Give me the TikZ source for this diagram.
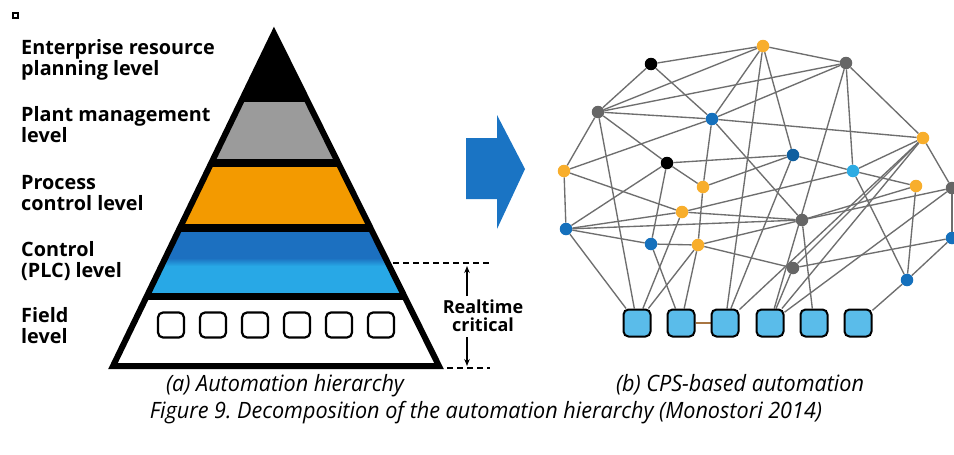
\documentclass[tikz,border=0pt]{standalone}
\usepackage{fontspec}
\setmainfont{Open Sans}
\newfontfamily\capfont{Open Sans}[FakeStretch=0.96]
\usetikzlibrary{arrows.meta}
\pgfdeclarelayer{links}
\pgfsetlayers{links,main}
\frenchspacing

\definecolor{pyrgray}{HTML}{9B9B9B}
\definecolor{pyrorange}{HTML}{F39A00}
\definecolor{pyrblueA}{HTML}{1C70C0}
\definecolor{pyrblueB}{HTML}{28A8E6}
\definecolor{bigarrow}{HTML}{1A74C4}
\definecolor{nOrange}{HTML}{F8AE2C}
\definecolor{nGray}{HTML}{666666}
\definecolor{nBlue}{HTML}{1570BC}
\definecolor{nLight}{HTML}{2CABE3}
\definecolor{nDark}{HTML}{0F5F9F}
\definecolor{devfill}{HTML}{5ABCEA}
\definecolor{linkgray}{HTML}{6E6E6E}

\begin{document}
\begin{tikzpicture}[x=1pt,y=-1pt,
  lab/.style={font=\fontsize{19.8}{22}\selectfont\bfseries, anchor=base west, inner sep=0},
  rtlab/.style={font=\fontsize{18}{21}\selectfont\bfseries, anchor=base, inner sep=0},
  captext/.style={font=\capfont\itshape\fontsize{22.5}{25}\selectfont, anchor=base, inner sep=0},
  fieldbox/.style={draw, line width=2.2, fill=white, rounded corners=5, minimum width=26, minimum height=25, inner sep=0},
  device/.style={draw, line width=2, fill=devfill, rounded corners=5, minimum size=27, inner sep=0},
  dot/.style={circle, inner sep=0, minimum size=12.5, fill=#1},
  link/.style={draw=linkgray, line width=1.35},
  rtarrow/.style={line width=1.6, -{Stealth[length=7,width=5.5]}},
  guide/.style={line width=1.8, dash pattern=on 6pt off 4pt},
]
\useasboundingbox (0,0) rectangle (954,455);
\begin{pgfonlayer}{links}
  \fill[white] (0,0) rectangle (954,455);
\end{pgfonlayer}

% small marker
\node[draw, line width=2, minimum size=5, inner sep=0] (marker) at (15.5,15.5) {};

% ---------- pyramid ----------
\coordinate (apex) at (274,33.5);
\coordinate (bl) at (113,366);
\coordinate (br) at (439,366);
\begin{scope}
  \clip (apex) -- (bl) -- (br) -- cycle;
  \fill[black] (100,20) rectangle (460,380);
  \fill[pyrgray] (100,102) rectangle (460,159);
  \fill[pyrorange] (100,167) rectangle (460,224);
  \fill[pyrblueA] (100,232) rectangle (460,258);
  \shade[top color=pyrblueA, bottom color=pyrblueB] (100,258) rectangle (460,266);
  \fill[pyrblueB] (100,266) rectangle (460,293);
  \fill[white] (100,300) rectangle (460,380);
\end{scope}
\draw[line width=6, line join=miter] (apex) -- (bl) -- (br) -- cycle;

\foreach \i/\x in {1/171,2/213,3/255,4/297,5/339,6/381}
  \node[fieldbox] (field\i) at (\x,325) {};

% level labels
\node[lab] (l1a) at (21,54) {Enterprise resource};
\node[lab] (l1b) at (21,75.5) {planning level};
\node[lab] (l2a) at (21,121) {Plant management};
\node[lab] (l2b) at (21,142) {level};
\node[lab] (l3a) at (21,189) {Process};
\node[lab] (l3b) at (21,210.5) {control level};
\node[lab] (l4a) at (21,256) {Control};
\node[lab] (l4b) at (21,277) {(PLC) level};
\node[lab] (l5a) at (21,322) {Field};
\node[lab] (l5b) at (21,343) {level};

% realtime-critical span
\coordinate (rtTopL) at (393,263);
\coordinate (rtTopR) at (490,263);
\coordinate (rtBotL) at (447,368);
\coordinate (rtBotR) at (490,368);
\draw[guide] (rtTopL) -- (rtTopR);
\draw[guide] (rtBotL) -- (rtBotR);
\node[rtlab] (rt1) at (483,313) {Realtime};
\node[rtlab] (rt2) at (483,331) {critical};
\coordinate (upS) at (467,296);
\coordinate (upE) at (467,266);
\coordinate (dnS) at (467,337);
\coordinate (dnE) at (467,366);
\draw[rtarrow] (upS) -- (upE);
\draw[rtarrow] (dnS) -- (dnE);

% ---------- transition arrow ----------
\fill[bigarrow] (466,138) -- (497,138) -- (497,115) -- (525,169) -- (497,229) -- (497,199) -- (466,199) -- cycle;

% ---------- CPS network ----------
\begin{scope}
\clip (530,0) rectangle (954,455);
\node[dot=nOrange] (o1) at (763,46) {};
\node[dot=nGray]   (g1) at (846,63) {};
\node[dot=black]   (k1) at (651,64) {};
\node[dot=nGray]   (g2) at (598,112) {};
\node[dot=nBlue]   (b1) at (712,119) {};
\node[dot=nOrange] (o2) at (923,138) {};
\node[dot=nDark]   (b2) at (793,155) {};
\node[dot=black]   (k2) at (667,163) {};
\node[dot=nOrange] (o3) at (564,171) {};
\node[dot=nLight]  (b3) at (853,171) {};
\node[dot=nOrange] (o4) at (703,187) {};
\node[dot=nOrange] (o5) at (916,186) {};
\node[dot=nGray]   (g3) at (952,188) {};
\node[dot=nOrange] (o6) at (682,212) {};
\node[dot=nGray]   (g4) at (802,220) {};
\node[dot=nBlue]   (b4) at (566,229) {};
\node[dot=nBlue]   (b6) at (952,238) {};
\node[dot=nBlue]   (b5) at (651,244) {};
\node[dot=nOrange] (o7) at (698,245) {};
\node[dot=nGray]   (g5) at (793,268) {};
\node[dot=nBlue]   (b7) at (907,280) {};
\end{scope}

\foreach \i/\x in {1/637,2/681,3/725,4/770,5/814,6/858}
  \node[device] (dev\i) at (\x,323) {};

\begin{pgfonlayer}{links}
\foreach \a/\b in {k1/o1,k1/g2,k1/b1,
  o1/g1,o1/g2,o1/b1,o1/b2,o1/dev3,
  g1/g2,g1/b1,g1/o2,g1/b3,g1/dev4,
  g2/b1,g2/k2,g2/o3,g2/dev1,
  b1/o2,b1/o4,b1/g4,b1/o3,
  o3/b4,o3/o6,
  b4/k2,b4/o6,b4/b5,b4/dev1,b4/g4,
  k2/b2,k2/o4,k2/b5,
  o4/o7,o4/b2,
  o6/g4,o6/dev1,o6/b3,
  o7/b5,o7/g5,o7/g4,o7/dev2,o7/dev1,
  b5/dev2,
  b2/b3,b2/dev3,
  b3/o2,b3/o5,b3/b7,
  o2/g3,o2/dev3,o2/dev4,o2/g5,
  o5/b7,o5/g4,
  g3/b6,g3/dev4,g3/g4,
  g4/dev5,
  g5/b6,g5/dev4,
  b6/b7,b7/dev6}
  \draw[link] (\a) -- (\b);
\draw[draw=linkgray!60!orange, line width=1.2] (dev2) -- (dev3);
\end{pgfonlayer}

% ---------- captions ----------
\node[captext] (capA) at (285,391) {(a) Automation hierarchy};
\node[captext] (capB) at (740,391) {(b) CPS-based automation};
\node[captext] (capFig) at (486,418) {Figure 9. Decomposition of the automation hierarchy (Monostori 2014)};
\end{tikzpicture}
\end{document}
